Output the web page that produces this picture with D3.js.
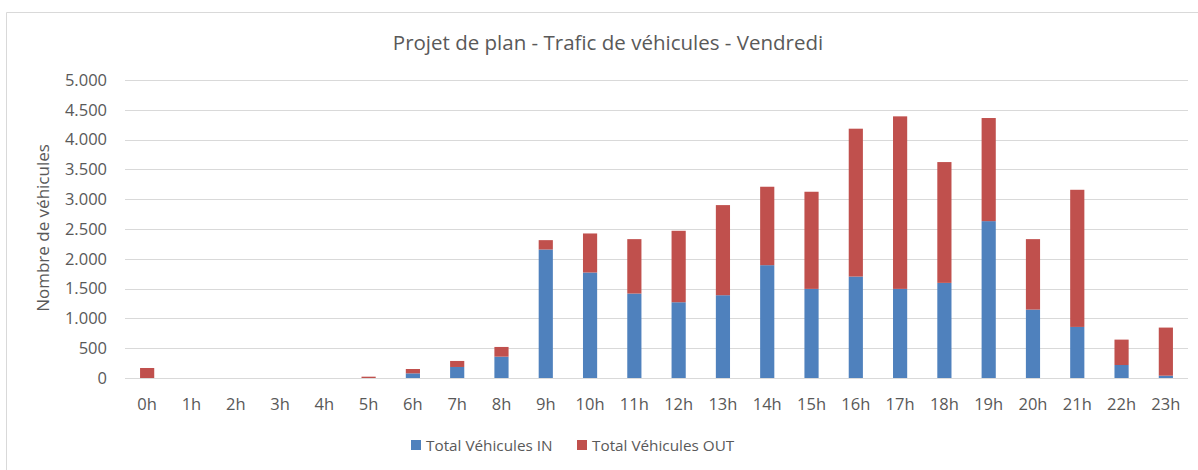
<!DOCTYPE html>
<html>
<head>
<meta charset="utf-8">
<script src="https://cdn.jsdelivr.net/npm/d3@7"></script>
<style>
  html, body { margin: 0; padding: 0; background: #fff; }
  svg { display: block; }
  text { font-family: "Open Sans", "Noto Sans", sans-serif; fill: #595959; }
</style>
</head>
<body>
<svg id="chart" width="1198" height="470"></svg>
<script>
// Hours of the day
const hours = ["0h","1h","2h","3h","4h","5h","6h","7h","8h","9h","10h","11h",
               "12h","13h","14h","15h","16h","17h","18h","19h","20h","21h","22h","23h"];
// Vehicles entering per hour
const vehiclesIn  = [0, 0, 0, 0, 0, 0, 78, 185, 358, 2156, 1770, 1417,
                     1271, 1389, 1893, 1495, 1702, 1495, 1596, 2632, 1148, 857, 218, 39];
// Vehicles leaving per hour
const vehiclesOut = [168, 0, 0, 0, 0, 22, 73, 101, 163, 157, 655, 913,
                     1199, 1512, 1316, 1630, 2481, 2895, 2027, 1730, 1182, 2301, 426, 807];
const yTicks = [0, 500, 1000, 1500, 2000, 2500, 3000, 3500, 4000, 4500, 5000];
const seriesNames = ["Total Véhicules IN", "Total Véhicules OUT"];
const seriesColors = ["#4F81BD", "#C0504D"];

const svg = d3.select("#chart");

// Chart frame
svg.append("path")
  .attr("d", "M6.5,470 V12.5 H1198")
  .attr("fill", "none").attr("stroke", "#d9d9d9").attr("stroke-width", 1);

const margin = { left: 125, right: 10, top: 80, bottom: 92 };
const plotW = 1188 - margin.left;

const x = d3.scaleBand().domain(hours).range([margin.left, margin.left + plotW]).paddingInner(0.68).paddingOuter(0.34);
const y = d3.scaleLinear().domain([0, 5000]).range([378, 80]);

// Gridlines
svg.append("g").selectAll("line").data(yTicks).join("line")
  .attr("x1", margin.left).attr("x2", margin.left + plotW)
  .attr("y1", d => Math.round(y(d)) + 0.5).attr("y2", d => Math.round(y(d)) + 0.5)
  .attr("stroke", "#d9d9d9").attr("stroke-width", 1);

// Y axis labels (thousands separated by a dot)
const fmt = d => d3.format(",")(d).replace(/,/g, ".");
const yAxis = d3.axisLeft(y).tickValues(yTicks).tickFormat(fmt).tickSize(0).tickPadding(18);
const gy = svg.append("g").attr("transform", `translate(${margin.left},0)`).call(yAxis);
gy.select(".domain").remove();
gy.selectAll("text").style("font-size", "16.5px").attr("fill", "#595959").style("font-family", "\"Open Sans\", sans-serif");

// X axis labels
const xAxis = d3.axisBottom(x).tickSize(0).tickPadding(20);
const gx = svg.append("g").attr("transform", `translate(0,378)`).call(xAxis);
gx.select(".domain").remove();
gx.selectAll("text").style("font-size", "16.5px").attr("fill", "#595959").style("font-family", "\"Open Sans\", sans-serif");

// Stacked bars
const rows = hours.map((h, i) => ({ hour: h, in: vehiclesIn[i], out: vehiclesOut[i] }));
const stack = d3.stack().keys(["in", "out"])(rows);
svg.append("g").selectAll("g").data(stack).join("g")
  .attr("fill", (d, i) => seriesColors[i])
  .selectAll("rect").data(d => d).join("rect")
  .attr("x", d => x(d.data.hour))
  .attr("width", x.bandwidth())
  .attr("y", d => y(d[1]))
  .attr("height", d => y(d[0]) - y(d[1]));

// Title
svg.append("text")
  .attr("x", 608).attr("y", 50)
  .attr("text-anchor", "middle")
  .style("font-size", "20.5px")
  .text("Projet de plan - Trafic de véhicules - Vendredi");

// Y axis title
svg.append("text")
  .attr("transform", "translate(49,228) rotate(-90)")
  .attr("text-anchor", "middle")
  .style("font-size", "17px")
  .text("Nombre de véhicules");

// Legend
const legend = svg.append("g");
const legendX = [411, 577];
seriesNames.forEach((name, i) => {
  legend.append("rect")
    .attr("x", legendX[i]).attr("y", 440).attr("width", 10).attr("height", 10)
    .attr("fill", seriesColors[i]);
  legend.append("text")
    .attr("x", legendX[i] + 15).attr("y", 451)
    .style("font-size", "15.3px")
    .text(name);
});
</script>
</body>
</html>
